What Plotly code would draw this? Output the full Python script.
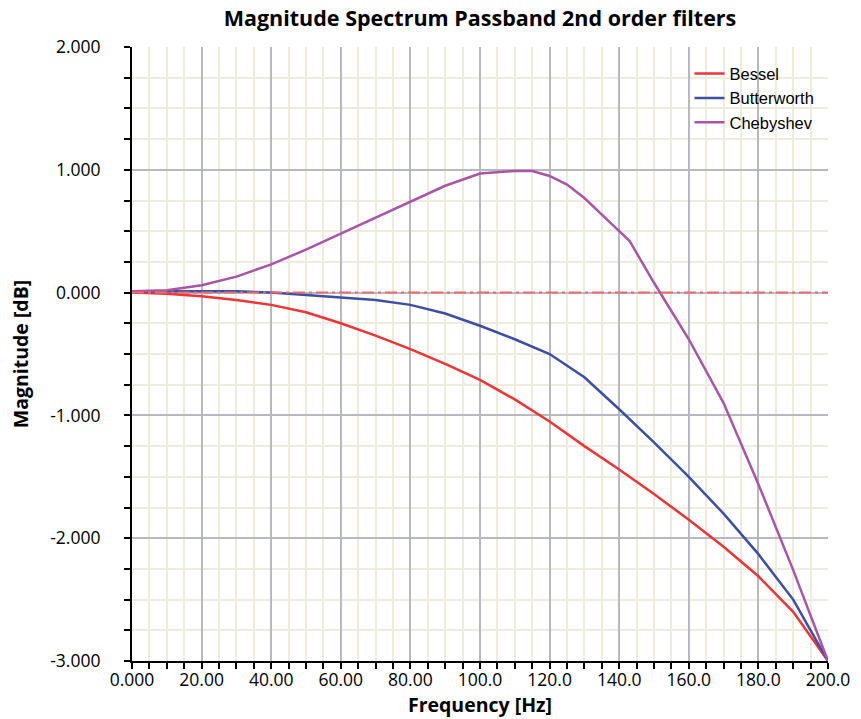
import plotly.graph_objects as go

# frequency points (Hz)
freq = [0, 10, 20, 30, 40, 50, 60, 70, 80, 90, 100, 110, 120, 130, 140, 150, 160, 170, 180, 190, 200]
bessel = [0.0, -0.01, -0.03, -0.06, -0.10, -0.16, -0.25, -0.35, -0.46, -0.58, -0.71, -0.87, -1.05,
          -1.25, -1.44, -1.64, -1.85, -2.07, -2.31, -2.60, -3.0]
butterworth = [0.01, 0.01, 0.01, 0.01, 0.0, -0.02, -0.04, -0.06, -0.10, -0.17, -0.27, -0.38, -0.50,
               -0.69, -0.95, -1.22, -1.50, -1.80, -2.13, -2.50, -3.0]

freq_cheb = [0, 10, 20, 30, 40, 50, 60, 70, 80, 90, 100, 110, 115, 120, 125, 130, 140, 143, 150,
             160, 170, 180, 190, 200]
chebyshev = [0.01, 0.02, 0.06, 0.13, 0.23, 0.35, 0.48, 0.61, 0.74, 0.87, 0.97, 0.99, 0.99, 0.95,
             0.88, 0.77, 0.50, 0.42, 0.08, -0.38, -0.90, -1.56, -2.26, -3.0]

x_ticks = [0, 20, 40, 60, 80, 100, 120, 140, 160, 180, 200]
x_labels = ["0.000", "20.00", "40.00", "60.00", "80.00", "100.0", "120.0", "140.0", "160.0", "180.0", "200.0"]
y_ticks = [-3, -2, -1, 0, 1, 2]
y_labels = ["-3.000", "-2.000", "-1.000", "0.000", "1.000", "2.000"]

fig = go.Figure()
fig.add_trace(go.Scatter(x=freq, y=bessel, mode="lines", name="Bessel",
                         line=dict(color="#ee3434", width=2.5)))
fig.add_trace(go.Scatter(x=freq, y=butterworth, mode="lines", name="Butterworth",
                         line=dict(color="#3d4fa2", width=2.5)))
fig.add_trace(go.Scatter(x=freq_cheb, y=chebyshev, mode="lines", name="Chebyshev",
                         line=dict(color="#a855a8", width=2.5)))

# reference line at 0 dB
fig.add_hline(y=0, line=dict(color="#ef6a6a", width=2, dash="12px,4px,3px,4px"))

font_main = "'Open Sans', sans-serif"

fig.update_layout(
    width=861, height=719,
    margin=dict(l=132, r=33, t=47, b=58, autoexpand=False),
    plot_bgcolor="white", paper_bgcolor="white",
    title=dict(text="<b>Magnitude Spectrum Passband 2nd order filters</b>",
               x=0.5575, xanchor="center", y=0.975, yanchor="middle",
               font=dict(family=font_main, size=21.5, color="black")),
    legend=dict(x=0.801, y=0.985, xanchor="left", yanchor="top",
                bgcolor="rgba(0,0,0,0)", font=dict(family="Liberation Sans, Arial", size=16.5, color="black"),
                tracegroupgap=0, itemwidth=30),
    showlegend=True,
)

fig.update_xaxes(
    range=[0, 200], tickvals=x_ticks, ticktext=x_labels, automargin=False,
    showgrid=True, gridcolor="#b8b8c0", gridwidth=1.5,
    showline=True, linecolor="black", linewidth=2,
    ticks="outside", ticklen=6, tickwidth=2, tickcolor="black",
    ticklabelstandoff=-4,
    tickfont=dict(family=font_main, size=17.5, color="black"),
    minor=dict(dtick=5, showgrid=True, gridcolor="#eeecdc", gridwidth=2,
               ticks="outside", ticklen=6, tickwidth=2, tickcolor="black"),
    title=dict(text="<b>Frequency [Hz]</b>", font=dict(family=font_main, size=19.5, color="black"), standoff=0),
    zeroline=False,
)
fig.update_yaxes(
    range=[-3, 2], tickvals=y_ticks, ticktext=y_labels, automargin=False,
    showgrid=True, gridcolor="#b8b8c0", gridwidth=1.5,
    showline=True, linecolor="black", linewidth=2,
    ticks="outside", ticklen=6, tickwidth=2, tickcolor="black",
    ticklabelstandoff=20,
    tickfont=dict(family=font_main, size=17.5, color="black"),
    minor=dict(dtick=0.25, showgrid=True, gridcolor="#eeecdc", gridwidth=2,
               ticks="outside", ticklen=6, tickwidth=2, tickcolor="black"),
    title=dict(text="<b>Magnitude [dB]</b>", font=dict(family=font_main, size=19.5, color="black"), standoff=16),
    zeroline=False,
)

# page body has a default margin; remove it so the figure sits at the window's corner
fig.write_html("out.html", config={"displayModeBar": False},
               post_script="document.body.style.margin='0';")
